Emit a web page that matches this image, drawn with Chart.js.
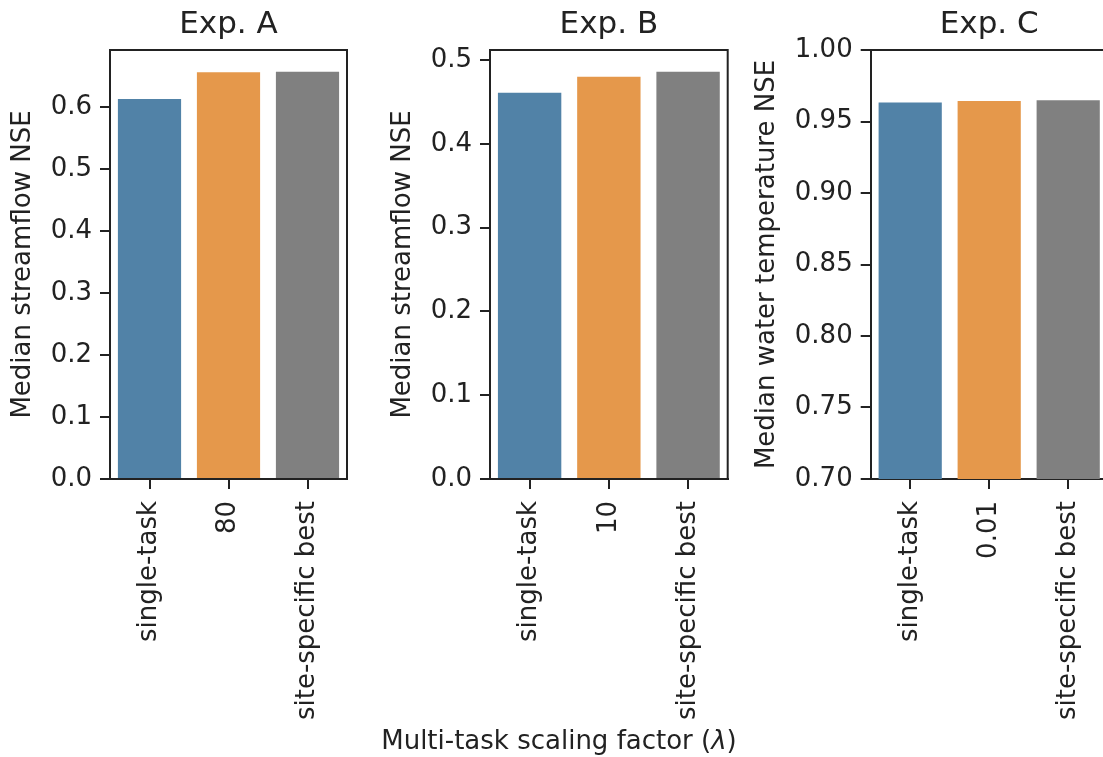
<!DOCTYPE html>
<html>
<head>
<meta charset="utf-8">
<script src="https://cdn.jsdelivr.net/npm/chart.js@4"></script>
<style>
  html, body { margin: 0; padding: 0; background: #fff; overflow: hidden; }
  #wrap { position: relative; width: 1103px; height: 757px; overflow: hidden; }
  canvas { position: absolute; top: 0; }
  #xlabel {
    position: absolute; left: 0; width: 1118px; top: 727px;
    text-align: center; font: 26px/26px "DejaVu Sans", sans-serif; color: #222;
  }
</style>
</head>
<body>
<div id="wrap">
  <canvas id="chartA" width="360" height="757" style="left:0px"></canvas>
  <canvas id="chartB" width="370" height="757" style="left:370px"></canvas>
  <canvas id="chartC" width="380" height="757" style="left:740px"></canvas>
  <div id="xlabel">Multi-task scaling factor (<i>λ</i>)</div>
</div>
<script>
const categoriesA = ["single-task", "80", "site-specific best"];
const categoriesB = ["single-task", "10", "site-specific best"];
const categoriesC = ["single-task", "0.01", "site-specific best"];

const valuesA = [0.613, 0.656, 0.657];
const valuesB = [0.461, 0.480, 0.486];
const valuesC = [0.9632, 0.9643, 0.9648];

const ticksA = [0.0, 0.1, 0.2, 0.3, 0.4, 0.5, 0.6];
const ticksB = [0.0, 0.1, 0.2, 0.3, 0.4, 0.5];
const ticksC = [0.70, 0.75, 0.80, 0.85, 0.90, 0.95, 1.00];

const barColors = ["#5182a7", "#e5984b", "#808080"];
const ink = "#222";
const fontFamily = "'DejaVu Sans', sans-serif";

// top and right spines, like matplotlib's full axes box
const frame = {
  id: "frame",
  afterDatasetsDraw(chart) {
    const { ctx, chartArea: a } = chart;
    ctx.save();
    ctx.strokeStyle = ink;
    ctx.lineWidth = 2;
    ctx.beginPath();
    ctx.moveTo(a.left, a.top);
    ctx.lineTo(a.right, a.top);
    ctx.lineTo(a.right, a.bottom);
    ctx.stroke();
    ctx.restore();
  }
};

function makeChart(id, title, labels, values, ticks, yMin, yMax, decimals, yLabel, yWidth, yTitlePad, rightPad) {
  return new Chart(document.getElementById(id), {
    type: "bar",
    data: {
      labels: labels,
      datasets: [{
        data: values,
        backgroundColor: barColors,
        borderWidth: 0,
        categoryPercentage: 1.0,
        barPercentage: 0.8
      }]
    },
    options: {
      responsive: false,
      animation: false,
      devicePixelRatio: 1,
      layout: { padding: { left: 0, right: rightPad, top: 0, bottom: 0 } },
      plugins: {
        legend: { display: false },
        tooltip: { enabled: false },
        title: {
          display: true,
          text: title,
          fullSize: false,
          color: ink,
          font: { family: fontFamily, size: 31, weight: "normal" },
          padding: { top: 6, bottom: 6.8 }
        }
      },
      scales: {
        x: {
          grid: { display: true, drawOnChartArea: false, offset: false, tickLength: 10, color: ink, lineWidth: 2 },
          border: { display: true, color: ink, width: 2 },
          ticks: {
            color: ink, minRotation: 90, maxRotation: 90, padding: 12, autoSkip: false,
            font: { family: fontFamily, size: 26 }
          },
          afterFit(scale) { scale.height = 278; }
        },
        y: {
          min: yMin,
          max: yMax,
          grid: { display: true, drawOnChartArea: false, tickLength: 10, color: ink, lineWidth: 2 },
          border: { display: true, color: ink, width: 2 },
          ticks: {
            color: ink, padding: 8,
            font: { family: fontFamily, size: 26 },
            callback: (v) => Number(v).toFixed(decimals)
          },
          afterBuildTicks(scale) { scale.ticks = ticks.map(v => ({ value: v })); },
          title: {
            display: true, text: yLabel, color: ink,
            font: { family: fontFamily, size: 26 },
            padding: { top: yTitlePad, bottom: 0 }
          },
          afterFit(scale) { scale.width = yWidth; }
        }
      }
    },
    plugins: [frame]
  });
}

makeChart("chartA", "Exp. A", categoriesA, valuesA, ticksA, 0, 0.692, 1,
  "Median streamflow NSE", 110, 8, 13);
makeChart("chartB", "Exp. B", categoriesB, valuesB, ticksB, 0, 0.512, 1,
  "Median streamflow NSE", 120, 18, 12.3);
makeChart("chartC", "Exp. C", categoriesC, valuesC, ticksC, 0.70, 1.00, 2,
  "Median water temperature NSE", 130.7, 12, 12.3);
</script>
</body>
</html>
